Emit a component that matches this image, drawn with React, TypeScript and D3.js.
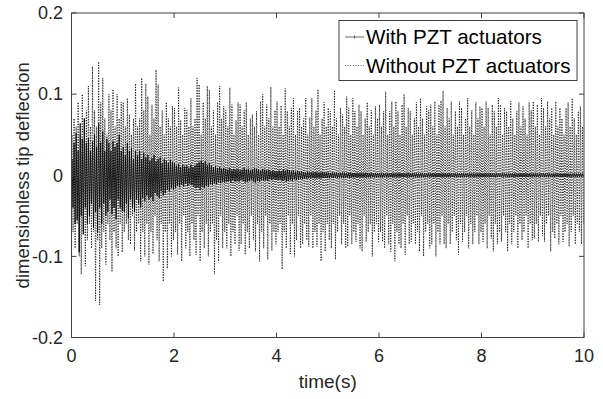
import React from "react";
import * as d3 from "d3";

// ---- data (peak values per oscillation cycle, 0.04 s per cycle) ----
const CYCLE = 0.04;

const WITHOUT_UP = [
  // 0-1 s
  0.05, 0.07, 0.06, 0.09, 0.05, 0.10, 0.07, 0.08, 0.11, 0.06, 0.134, 0.08, 0.06, 0.14, 0.09, 0.12, 0.07, 0.05, 0.10, 0.08, 0.106, 0.06, 0.10, 0.07, 0.09,
  // 1-2 s
  0.09, 0.06, 0.095, 0.075, 0.05, 0.07, 0.113, 0.06, 0.07, 0.12, 0.08, 0.113, 0.097, 0.05, 0.087, 0.07, 0.13, 0.112, 0.06, 0.08, 0.05, 0.09, 0.07, 0.06, 0.085,
  // 2-3 s
  0.083, 0.06, 0.108, 0.068, 0.05, 0.083, 0.08, 0.06, 0.095, 0.06, 0.07, 0.12, 0.112, 0.05, 0.09, 0.07, 0.11, 0.105, 0.06, 0.08, 0.05, 0.09, 0.11, 0.07, 0.085,
  // 3-4 s
  0.08, 0.06, 0.108, 0.087, 0.05, 0.068, 0.09, 0.087, 0.06, 0.08, 0.09, 0.05, 0.07, 0.075, 0.06, 0.079, 0.05, 0.091, 0.1, 0.06, 0.087, 0.07, 0.109, 0.06, 0.08,
  // 4-5 s
  0.091, 0.06, 0.086, 0.05, 0.107, 0.079, 0.06, 0.083, 0.095, 0.05, 0.079, 0.083, 0.06, 0.07, 0.095, 0.05, 0.071, 0.095, 0.06, 0.08, 0.106, 0.05, 0.07, 0.09, 0.06,
  // 5-6 s
  0.083, 0.079, 0.06, 0.105, 0.07, 0.05, 0.083, 0.075, 0.06, 0.097, 0.083, 0.05, 0.095, 0.079, 0.06, 0.087, 0.079, 0.05, 0.07, 0.09, 0.06, 0.08, 0.05, 0.085, 0.07,
  // 6-7 s
  0.087, 0.06, 0.079, 0.103, 0.05, 0.079, 0.091, 0.06, 0.091, 0.079, 0.05, 0.087, 0.1, 0.06, 0.083, 0.079, 0.05, 0.07, 0.09, 0.06, 0.095, 0.07, 0.05, 0.085, 0.08,
  // 7-8 s
  0.087, 0.06, 0.091, 0.05, 0.087, 0.092, 0.104, 0.06, 0.083, 0.07, 0.091, 0.05, 0.079, 0.06, 0.091, 0.083, 0.05, 0.07, 0.095, 0.06, 0.08, 0.05, 0.09, 0.07, 0.085,
  // 8-9 s
  0.083, 0.06, 0.091, 0.083, 0.05, 0.087, 0.079, 0.06, 0.095, 0.087, 0.05, 0.083, 0.079, 0.06, 0.091, 0.07, 0.05, 0.079, 0.09, 0.06, 0.085, 0.07, 0.05, 0.09, 0.08,
  // 9-10 s
  0.091, 0.06, 0.087, 0.05, 0.095, 0.083, 0.06, 0.091, 0.07, 0.083, 0.05, 0.091, 0.06, 0.083, 0.07, 0.05, 0.083, 0.09, 0.06, 0.095, 0.07, 0.05, 0.079, 0.085, 0.06,
];

const WITHOUT_DN = [
  -0.07, -0.09, -0.06, -0.1, -0.122, -0.07, -0.112, -0.08, -0.06, -0.09, -0.07, -0.155, -0.08, -0.16, -0.09, -0.07, -0.11, -0.06, -0.08, -0.119, -0.07, -0.09, -0.1, -0.06, -0.095,
  -0.07, -0.06, -0.08, -0.085, -0.05, -0.093, -0.07, -0.06, -0.106, -0.07, -0.1, -0.06, -0.11, -0.07, -0.097, -0.05, -0.08, -0.106, -0.06, -0.131, -0.07, -0.115, -0.06, -0.1, -0.08,
  -0.07, -0.098, -0.06, -0.106, -0.05, -0.09, -0.07, -0.1, -0.06, -0.08, -0.098, -0.05, -0.106, -0.07, -0.09, -0.06, -0.1, -0.07, -0.06, -0.122, -0.08, -0.106, -0.05, -0.09, -0.07,
  -0.09, -0.06, -0.1, -0.07, -0.085, -0.05, -0.093, -0.085, -0.06, -0.098, -0.07, -0.09, -0.05, -0.08, -0.094, -0.06, -0.106, -0.07, -0.09, -0.05, -0.104, -0.06, -0.093, -0.07, -0.085,
  -0.07, -0.06, -0.116, -0.07, -0.09, -0.05, -0.097, -0.06, -0.1, -0.08, -0.05, -0.09, -0.085, -0.06, -0.08, -0.088, -0.05, -0.09, -0.07, -0.088, -0.06, -0.106, -0.07, -0.094, -0.06,
  -0.08, -0.09, -0.06, -0.104, -0.07, -0.05, -0.085, -0.06, -0.09, -0.088, -0.05, -0.085, -0.07, -0.082, -0.06, -0.09, -0.094, -0.05, -0.082, -0.07, -0.06, -0.1, -0.07, -0.06, -0.082,
  -0.07, -0.082, -0.09, -0.05, -0.085, -0.094, -0.06, -0.106, -0.07, -0.085, -0.09, -0.06, -0.098, -0.05, -0.085, -0.082, -0.06, -0.085, -0.07, -0.094, -0.05, -0.1, -0.07, -0.06, -0.09,
  -0.085, -0.06, -0.1, -0.07, -0.085, -0.05, -0.085, -0.09, -0.06, -0.085, -0.07, -0.05, -0.08, -0.098, -0.06, -0.082, -0.07, -0.05, -0.09, -0.06, -0.085, -0.07, -0.05, -0.085, -0.07,
  -0.082, -0.06, -0.09, -0.05, -0.078, -0.094, -0.06, -0.085, -0.07, -0.082, -0.05, -0.07, -0.094, -0.06, -0.085, -0.07, -0.05, -0.09, -0.06, -0.08, -0.07, -0.05, -0.09, -0.06, -0.08,
  -0.078, -0.06, -0.082, -0.05, -0.075, -0.082, -0.06, -0.05, -0.094, -0.07, -0.078, -0.06, -0.085, -0.05, -0.082, -0.07, -0.06, -0.088, -0.07, -0.05, -0.085, -0.06, -0.07, -0.085, -0.06,
];

const WITH_UP = [
  0.02, 0.04, 0.052, 0.03, 0.064, 0.045, 0.07, 0.04, 0.046, 0.03, 0.042, 0.05, 0.035, 0.064, 0.04, 0.054, 0.03, 0.045, 0.04, 0.03, 0.042, 0.035, 0.04, 0.05, 0.03,
  0.035, 0.025, 0.04, 0.03, 0.034, 0.02, 0.03, 0.025, 0.03, 0.02, 0.028, 0.022, 0.025, 0.018, 0.021, 0.025, 0.017, 0.02, 0.022, 0.015, 0.02, 0.018, 0.015, 0.019, 0.016,
  0.015, 0.012, 0.014, 0.01, 0.013, 0.011, 0.012, 0.009, 0.013, 0.01, 0.012, 0.014, 0.016, 0.018, 0.015, 0.017, 0.013, 0.015, 0.012, 0.01, 0.011, 0.009, 0.01, 0.008, 0.009,
  0.008, 0.007, 0.009, 0.006, 0.008, 0.007, 0.008, 0.006, 0.007, 0.009, 0.007, 0.008, 0.006, 0.007, 0.009, 0.008, 0.007, 0.006, 0.008, 0.007, 0.006, 0.007, 0.005, 0.006, 0.005,
  0.005, 0.006, 0.005, 0.007, 0.006, 0.007, 0.006, 0.005, 0.006, 0.0045, 0.005, 0.0045, 0.005, 0.004, 0.0035, 0.004, 0.0035, 0.004, 0.0035, 0.004, 0.0035, 0.0035, 0.004, 0.0035, 0.0035,
  0.0035, 0.003, 0.0035, 0.003, 0.0035, 0.003, 0.003, 0.0035, 0.003, 0.003, 0.003, 0.003, 0.0028, 0.003, 0.0028, 0.0028, 0.003, 0.0028, 0.0028, 0.003, 0.0027, 0.0028, 0.0026, 0.0028, 0.0026,
  0.0027, 0.0026, 0.0027, 0.0025, 0.0026, 0.0027, 0.0025, 0.0026, 0.0025, 0.0027, 0.0026, 0.0025, 0.0026, 0.0024, 0.0026, 0.0025, 0.0024, 0.0026, 0.0025, 0.0024, 0.0025, 0.0026, 0.0024, 0.0025, 0.0024,
  0.0025, 0.0024, 0.0025, 0.0024, 0.0025, 0.0023, 0.0025, 0.0024, 0.0023, 0.0025, 0.0024, 0.0023, 0.0024, 0.0024, 0.0023, 0.0024, 0.0025, 0.0023, 0.0024, 0.0023, 0.0024, 0.0023, 0.0024, 0.0023, 0.0024,
  0.0024, 0.0023, 0.0024, 0.0022, 0.0024, 0.0023, 0.0022, 0.0024, 0.0023, 0.0022, 0.0023, 0.0024, 0.0022, 0.0023, 0.0022, 0.0023, 0.0024, 0.0022, 0.0023, 0.0022, 0.0023, 0.0022, 0.0023, 0.0022, 0.0023,
  0.0023, 0.0022, 0.0023, 0.0021, 0.0023, 0.0022, 0.0021, 0.0023, 0.0022, 0.0021, 0.0022, 0.0023, 0.0021, 0.0022, 0.0021, 0.0022, 0.0023, 0.0021, 0.0022, 0.0021, 0.0022, 0.0021, 0.0022, 0.0021, 0.0022,
];

const WITH_DN = [
  -0.04, -0.06, -0.055, -0.095, -0.05, -0.073, -0.04, -0.06, -0.05, -0.035, -0.065, -0.045, -0.07, -0.04, -0.06, -0.035, -0.05, -0.045, -0.03, -0.048, -0.04, -0.054, -0.03, -0.04, -0.044,
  -0.045, -0.035, -0.053, -0.03, -0.04, -0.045, -0.03, -0.035, -0.04, -0.028, -0.032, -0.025, -0.03, -0.027, -0.032, -0.022, -0.025, -0.028, -0.02, -0.025, -0.022, -0.018, -0.02, -0.016, -0.018,
  -0.016, -0.013, -0.015, -0.012, -0.014, -0.01, -0.013, -0.011, -0.012, -0.014, -0.016, -0.015, -0.018, -0.014, -0.016, -0.013, -0.014, -0.011, -0.012, -0.01, -0.011, -0.009, -0.01, -0.008, -0.009,
  -0.008, -0.007, -0.009, -0.006, -0.008, -0.007, -0.008, -0.006, -0.007, -0.009, -0.008, -0.007, -0.006, -0.008, -0.009, -0.007, -0.008, -0.006, -0.007, -0.006, -0.007, -0.005, -0.006, -0.005, -0.006,
  -0.006, -0.005, -0.007, -0.006, -0.008, -0.007, -0.006, -0.007, -0.005, -0.006, -0.005, -0.0045, -0.005, -0.0045, -0.004, -0.0035, -0.004, -0.0035, -0.004, -0.0035, -0.0035, -0.004, -0.0035, -0.0035, -0.0035,
  -0.0035, -0.003, -0.0035, -0.003, -0.0035, -0.003, -0.003, -0.0035, -0.003, -0.003, -0.003, -0.003, -0.003, -0.0028, -0.0028, -0.003, -0.0028, -0.0028, -0.003, -0.0028, -0.0027, -0.0026, -0.0028, -0.0026, -0.0027,
  -0.0026, -0.0027, -0.0025, -0.0026, -0.0027, -0.0025, -0.0026, -0.0025, -0.0027, -0.0026, -0.0025, -0.0026, -0.0024, -0.0026, -0.0025, -0.0024, -0.0026, -0.0025, -0.0024, -0.0025, -0.0026, -0.0024, -0.0025, -0.0024, -0.0025,
  -0.0024, -0.0025, -0.0024, -0.0025, -0.0023, -0.0025, -0.0024, -0.0023, -0.0025, -0.0024, -0.0023, -0.0024, -0.0024, -0.0023, -0.0024, -0.0025, -0.0023, -0.0024, -0.0023, -0.0024, -0.0023, -0.0024, -0.0023, -0.0024, -0.0024,
  -0.0023, -0.0024, -0.0022, -0.0024, -0.0023, -0.0022, -0.0024, -0.0023, -0.0022, -0.0023, -0.0024, -0.0022, -0.0023, -0.0022, -0.0023, -0.0024, -0.0022, -0.0023, -0.0022, -0.0023, -0.0022, -0.0023, -0.0022, -0.0023, -0.0023,
  -0.0022, -0.0023, -0.0021, -0.0023, -0.0022, -0.0021, -0.0023, -0.0022, -0.0021, -0.0022, -0.0023, -0.0021, -0.0022, -0.0021, -0.0022, -0.0023, -0.0021, -0.0022, -0.0021, -0.0022, -0.0021, -0.0022, -0.0021, -0.0022, -0.0021,
];

const X_TICKS = [0, 2, 4, 6, 8, 10];
const Y_TICKS = [-0.2, -0.1, 0, 0.1, 0.2];
const Y_TICK_LABELS = ["-0.2", "-0.1", "0", "0.1", "0.2"];
const SERIES_NAMES = ["With PZT actuators", "Without PZT actuators"];
const X_LABEL = "time(s)";
const Y_LABEL = "dimensionless tip deflection";

type Pt = [number, number];

function toSeries(up: number[], dn: number[]): Pt[] {
  const pts: Pt[] = [[0, 0]];
  for (let k = 0; k < up.length; k++) {
    pts.push([k * CYCLE + CYCLE * 0.25, up[k]]);
    pts.push([k * CYCLE + CYCLE * 0.75, dn[k]]);
  }
  return pts;
}

export default function App() {
  const W = 603, H = 399;
  const L = 71.5, R = 584, T = 13, B = 337.5;
  const x = d3.scaleLinear().domain([0, 10]).range([L, R]);
  const y = d3.scaleLinear().domain([-0.2, 0.2]).range([B, T]);
  const line = d3.line<Pt>().x((d) => x(d[0])).y((d) => y(d[1]));
  const without = toSeries(WITHOUT_UP, WITHOUT_DN);
  const withP = toSeries(WITH_UP, WITH_DN);
  const axisColor = "#404040";
  const textColor = "#262626";
  const font = "'Liberation Sans', Arial, Helvetica, sans-serif";
  const tickLen = 5;

  const lgX = 339, lgY = 20.5, lgW = 238, lgH = 60;
  const row1 = 37, row2 = 65.5;

  return (
    <svg width={W} height={H} style={{ position: "absolute", left: 0, top: 0, background: "#fff" }} fontFamily={font}>
      <rect x={0} y={0} width={W} height={H} fill="#fff" />
      <defs>
        <clipPath id="plotclip">
          <rect x={L} y={T} width={R - L} height={B - T} />
        </clipPath>
      </defs>
      <g clipPath="url(#plotclip)">
        <path d={line(without) || ""} fill="none" stroke="#111" strokeWidth={0.85} strokeDasharray="1.2 1.4" />
        <path d={line(withP) || ""} fill="none" stroke="#000" strokeWidth={0.8} />
      </g>
      {/* axes box */}
      <rect x={L} y={T} width={R - L} height={B - T} fill="none" stroke={axisColor} strokeWidth={1} />
      {X_TICKS.map((t) => (
        <g key={"xt" + t}>
          <line x1={x(t)} x2={x(t)} y1={B} y2={B - tickLen} stroke={axisColor} strokeWidth={1} />
          <line x1={x(t)} x2={x(t)} y1={T} y2={T + tickLen} stroke={axisColor} strokeWidth={1} />
          <text x={x(t)} y={362} textAnchor="middle" fontSize={18} fill={textColor}>{t}</text>
        </g>
      ))}
      {Y_TICKS.map((t, i) => (
        <g key={"yt" + t}>
          <line x1={L} x2={L + tickLen} y1={y(t)} y2={y(t)} stroke={axisColor} strokeWidth={1} />
          <line x1={R} x2={R - tickLen} y1={y(t)} y2={y(t)} stroke={axisColor} strokeWidth={1} />
          <text x={63} y={y(t)} dy="0.35em" textAnchor="end" fontSize={18} fill={textColor}>{Y_TICK_LABELS[i]}</text>
        </g>
      ))}
      <text x={(L + R) / 2} y={388} textAnchor="middle" fontSize={19} fill={textColor}>{X_LABEL}</text>
      <text transform={`translate(23,${(T + B) / 2}) rotate(-90)`} dy="0.35em" textAnchor="middle" fontSize={18.5} fill={textColor}>{Y_LABEL}</text>
      {/* legend */}
      <rect x={lgX} y={lgY} width={lgW} height={lgH} fill="#fff" stroke={axisColor} strokeWidth={1} />
      <line x1={345} x2={364} y1={row1} y2={row1} stroke="#444" strokeWidth={0.8} />
      <line x1={354.5} x2={354.5} y1={row1 - 1.5} y2={row1 + 1.5} stroke="#444" strokeWidth={0.8} />
      <text x={366} y={row1} dy="0.35em" fontSize={20.6} fill="#000">{SERIES_NAMES[0]}</text>
      <line x1={345} x2={364} y1={row2} y2={row2} stroke="#444" strokeWidth={0.8} strokeDasharray="1 1.6" />
      <text x={366} y={row2} dy="0.35em" fontSize={20.6} fill="#000">{SERIES_NAMES[1]}</text>
    </svg>
  );
}
